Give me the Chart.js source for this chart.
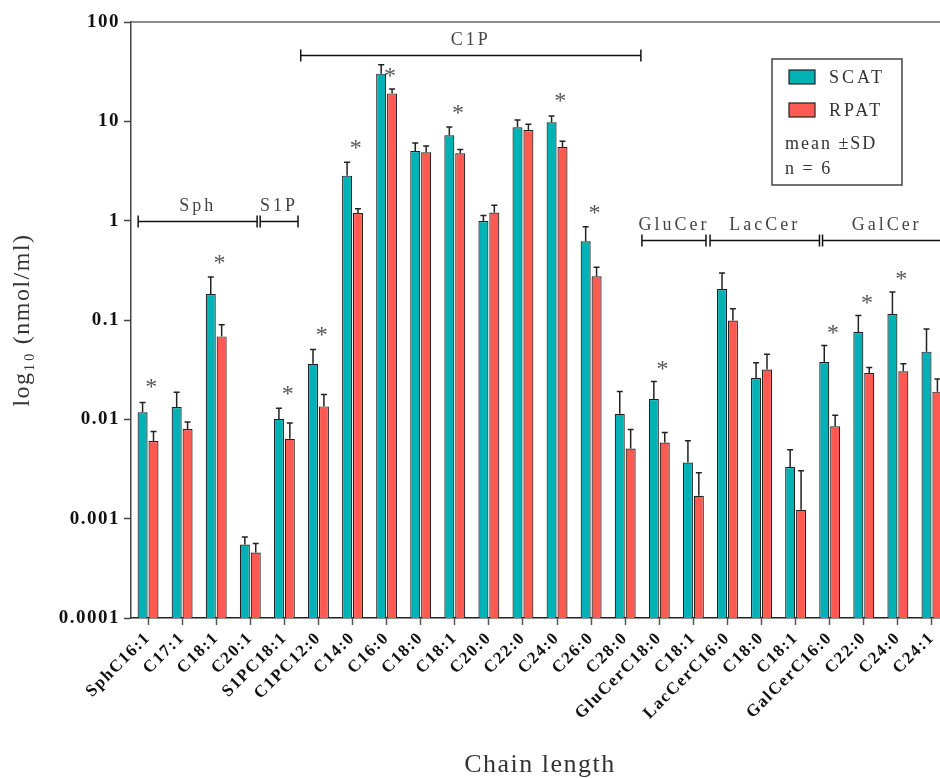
<!DOCTYPE html>
<html>
<head>
<meta charset="utf-8">
<script src="https://cdn.jsdelivr.net/npm/chart.js@4/dist/chart.umd.min.js"></script>
<style>
  html, body { margin: 0; padding: 0; background: #fff; overflow: hidden; }
  #wrap { width: 950px; height: 778px; }
</style>
</head>
<body>
<div id="wrap"><canvas id="lipids"></canvas></div>
<script>
// chain length categories
const chains = ["SphC16:1", "C17:1", "C18:1", "C20:1", "S1PC18:1", "C1PC12:0", "C14:0", "C16:0",
  "C18:0", "C18:1", "C20:0", "C22:0", "C24:0", "C26:0", "C28:0", "GluCerC18:0", "C18:1",
  "LacCerC16:0", "C18:0", "C18:1", "GalCerC16:0", "C22:0", "C24:0", "C24:1"];

// nmol/ml, mean and SD
const scatMean = [0.0118, 0.0133, 0.183, 0.00055, 0.0101, 0.0363, 2.84, 30.2, 5.03, 7.23, 0.99, 8.7,
  9.77, 0.619, 0.0114, 0.016, 0.00368, 0.205, 0.026, 0.00331, 0.0378, 0.0757, 0.115, 0.048];
const scatSD = [0.003, 0.0054, 0.088, 0.000103, 0.0028, 0.0143, 1.03, 7.0, 1.03, 1.55, 0.14, 1.6,
  1.53, 0.25, 0.0077, 0.0081, 0.0024, 0.092, 0.0112, 0.00163, 0.0177, 0.0353, 0.076, 0.033];
const rpatMean = [0.00604, 0.00798, 0.0684, 0.000457, 0.00638, 0.0135, 1.195, 19.1, 4.87, 4.76, 1.21, 8.19,
  5.52, 0.275, 0.00509, 0.00585, 0.0017, 0.099, 0.0318, 0.00123, 0.0085, 0.0292, 0.0304, 0.019];
const rpatSD = [0.0015, 0.0014, 0.0213, 0.000105, 0.0028, 0.0043, 0.125, 2.1, 0.78, 0.46, 0.22, 1.14,
  0.77, 0.064, 0.0028, 0.0015, 0.0012, 0.031, 0.0133, 0.0018, 0.0025, 0.0041, 0.0059, 0.0065];

// significance marks: category index and height
const starIdx = [0, 2, 4, 5, 6, 7, 9, 12, 13, 15, 20, 21, 22];
const starAt = [0.0234, 0.414, 0.0199, 0.0785, 5.96, 31.7, 13.4, 17.7, 1.32, 0.0355, 0.0817, 0.164, 0.286];

// lipid class brackets (category units) and their height
const groupNames = ["Sph", "S1P", "C1P", "GluCer", "LacCer", "GalCer"];
const groupFrom = [-0.29, 3.29, 4.48, 14.49, 16.49, 19.79];
const groupTo = [3.2, 4.4, 14.46, 16.37, 19.7, 23.55];
const groupAt = [1, 1, 47, 0.633, 0.633, 0.633];

const yTicks = [0.0001, 0.001, 0.01, 0.1, 1, 10, 100];
const yTickLabels = ["0.0001", "0.001", "0.01", "0.1", "1", "10", "100"];

const TEAL = "#00b2b5", SALMON = "#ff5a52", INK = "#222";
const SERIF = "'Liberation Serif', 'DejaVu Serif', serif";

const spacing = {
  id: "spacing",
  beforeLayout(chart) { chart.ctx.letterSpacing = "1.5px"; },
  beforeDraw(chart) { chart.ctx.letterSpacing = "1.5px"; }
};

const extras = {
  id: "extras",
  afterDatasetsDraw(chart) {
    const ctx = chart.ctx, x = chart.scales.x, y = chart.scales.y, area = chart.chartArea;
    ctx.save();
    // top frame
    ctx.strokeStyle = "#666";
    ctx.lineWidth = 1.5;
    ctx.beginPath();
    ctx.moveTo(area.left, area.top);
    ctx.lineTo(area.right, area.top);
    ctx.stroke();

    // error bars
    const sds = [scatSD, rpatSD];
    ctx.strokeStyle = INK;
    ctx.lineWidth = 1.5;
    chart.data.datasets.forEach((ds, di) => {
      chart.getDatasetMeta(di).data.forEach((bar, i) => {
        const top = y.getPixelForValue(ds.data[i] + sds[di][i]);
        ctx.beginPath();
        ctx.moveTo(bar.x, bar.y);
        ctx.lineTo(bar.x, top);
        ctx.moveTo(bar.x - 3, top);
        ctx.lineTo(bar.x + 3, top);
        ctx.stroke();
      });
    });

    // asterisks
    ctx.fillStyle = "#555";
    ctx.font = "24px " + SERIF;
    ctx.textAlign = "center";
    ctx.textBaseline = "middle";
    starIdx.forEach((ci, k) => {
      ctx.fillText("*", x.getPixelForValue(ci) + 4, y.getPixelForValue(starAt[k]) + 5);
    });

    // class brackets
    const step = x.getPixelForValue(1) - x.getPixelForValue(0);
    const x0 = x.getPixelForValue(0);
    ctx.strokeStyle = "#111";
    ctx.lineWidth = 1.5;
    ctx.fillStyle = "#444";
    ctx.font = "18px " + SERIF;
    ctx.letterSpacing = "3px";
    ctx.textBaseline = "alphabetic";
    groupNames.forEach((name, g) => {
      const a = x0 + groupFrom[g] * step, b = x0 + groupTo[g] * step;
      const py = Math.round(y.getPixelForValue(groupAt[g])) + 0.5;
      ctx.beginPath();
      ctx.moveTo(a, py); ctx.lineTo(b, py);
      ctx.moveTo(a, py - 6); ctx.lineTo(a, py + 6);
      ctx.moveTo(b, py - 6); ctx.lineTo(b, py + 6);
      ctx.stroke();
      ctx.fillText(name, (a + b) / 2, py - 11);
    });

    // legend box
    ctx.strokeStyle = "#444";
    ctx.strokeRect(772, 59, 130, 126);
    ctx.lineWidth = 1.2;
    ctx.strokeStyle = INK;
    chart.data.datasets.forEach((ds, di) => {
      const ry = 70 + di * 33;
      ctx.fillStyle = ds.backgroundColor;
      ctx.fillRect(789, ry, 26, 14);
      ctx.strokeRect(789, ry, 26, 14);
      ctx.fillStyle = "#333";
      ctx.textAlign = "left";
      ctx.textBaseline = "middle";
      ctx.fillText(ds.label, 829, ry + 8);
    });
    ctx.letterSpacing = "2px";
    ctx.fillText("mean ±SD", 785, 144);
    ctx.fillText("n = 6", 785, 169);
    ctx.restore();
  }
};

new Chart(document.getElementById("lipids"), {
  type: "bar",
  data: {
    labels: chains,
    datasets: [
      { label: "SCAT", data: scatMean, backgroundColor: TEAL, borderColor: INK, borderWidth: 1.2 },
      { label: "RPAT", data: rpatMean, backgroundColor: SALMON, borderColor: INK, borderWidth: 1.2 }
    ]
  },
  options: {
    responsive: true,
    maintainAspectRatio: false,
    animation: false,
    layout: { padding: { top: 22, right: 1, left: 0, bottom: 0 } },
    datasets: { bar: { categoryPercentage: 0.64, barPercentage: 0.92 } },
    plugins: { legend: { display: false }, tooltip: { enabled: false } },
    scales: {
      x: {
        grid: { drawOnChartArea: false, offset: false, tickLength: 7, color: "#555", tickWidth: 1.5 },
        border: { color: "#222", width: 1.5 },
        ticks: {
          minRotation: 45, maxRotation: 45, autoSkip: false, padding: 3,
          color: "#111", font: { family: SERIF, size: 17, weight: "bold" }
        },
        title: {
          display: true, text: "Chain length", color: "#333",
          font: { family: SERIF, size: 26, lineHeight: 1 }, padding: { top: 0, bottom: 0 }
        },
        afterFit(scale) { scale.height = 160; }
      },
      y: {
        type: "logarithmic",
        min: 0.0001,
        max: 100,
        grid: { drawOnChartArea: false, tickLength: 7, color: "#444", tickWidth: 1.5 },
        border: { color: "#444", width: 1.5 },
        afterBuildTicks(scale) { scale.ticks = yTicks.map(v => ({ value: v })); },
        ticks: {
          padding: 4, color: "#111",
          font: { family: SERIF, size: 19, weight: "bold" },
          callback: (v) => yTickLabels[yTicks.indexOf(v)]
        },
        title: {
          display: true, text: "log₁₀ (nmol/ml)", color: "#333",
          font: { family: SERIF, size: 24, lineHeight: 1.2 }, padding: { top: 8 }
        },
        afterFit(scale) { scale.width = 131; }
      }
    }
  },
  plugins: [spacing, extras]
});
</script>
</body>
</html>
